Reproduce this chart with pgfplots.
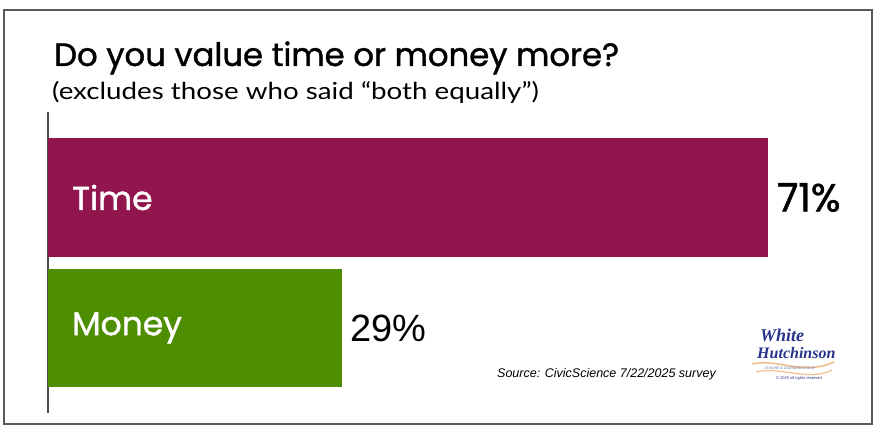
\documentclass[border=0pt]{standalone}
\usepackage{pgfplots}
\pgfplotsset{compat=1.18}
\usepackage{fontspec}
\setmainfont{Liberation Sans}
\newfontfamily\comic{Poppins}[FakeBold=1.2]
\newfontfamily\lato{Lato}
\newfontfamily\logofont{Liberation Serif}
\definecolor{timec}{RGB}{146,22,78}
\definecolor{moneyc}{RGB}{78,142,2}
\definecolor{logoblue}{RGB}{40,52,140}
\definecolor{logoorange}{RGB}{240,192,145}
\begin{document}
\begin{tikzpicture}[x=1pt,y=1pt]
\useasboundingbox (0,0) rectangle (880,434);
\fill[white] (0,0) rectangle (880,434);
\draw[line width=1.5pt, color=black!65] (4,10) rectangle (872,424);
% titles
\node[anchor=base west, inner sep=0pt] at (54,368) {\comic\fontsize{32.3}{36}\selectfont Do you value time or money more?};
\node[anchor=base west, inner sep=0pt] at (52,334) {\scalebox{1.18}[1]{\lato\fontsize{23.5}{26}\selectfont (excludes those who said \textquotedblleft both equally\textquotedblright)}};
\begin{axis}[
  at={(48pt,21pt)}, anchor=south west,
  scale only axis, width=811.2pt, height=301pt,
  xmin=0, xmax=80, ymin=-0.651, ymax=1.655,
  axis x line=none, axis y line*=left,
  y axis line style={line width=1.3pt, black!70, -},
  xtick=\empty, ytick=\empty,
  xbar, bar width=118.5pt, bar shift=0pt,
  point meta=x,
  /pgf/number format/assume math mode=true,
  clip=false,
]
\addplot[fill=timec, draw=none,
  nodes near coords={\comic\fontsize{39}{42}\selectfont\pgfmathprintnumber{\pgfplotspointmeta}\%},
  nodes near coords style={anchor=west, inner sep=0pt, xshift=9pt, text=black}]
  coordinates {(71,1)};
\addplot[fill=moneyc, draw=none,
  nodes near coords={\fontsize{38}{42}\selectfont\pgfmathprintnumber{\pgfplotspointmeta}\%},
  nodes near coords style={anchor=west, inner sep=0pt, xshift=8pt, text=black}]
  coordinates {(29,0)};
\node[anchor=west, inner sep=0pt, text=white, xshift=24pt] at (axis cs:0,1) {\comic\fontsize{33}{38}\selectfont Time};
\node[anchor=west, inner sep=0pt, text=white, xshift=24pt] at (axis cs:0,0) {\comic\fontsize{33}{38}\selectfont Money};
\end{axis}
% source
\node[anchor=base west, inner sep=0pt] at (497,57) {\fontsize{12.5}{14}\selectfont\itshape Source: CivicScience 7/22/2025 survey};
% logo
\node[anchor=base west, inner sep=0pt, text=logoblue] at (760,93) {\logofont\fontsize{18}{18}\selectfont\bfseries\itshape White};
\node[anchor=base west, inner sep=0pt, text=logoblue] at (757,76) {\logofont\fontsize{16}{16}\selectfont\bfseries\itshape Hutchinson};
\draw[logoorange, line width=1.6pt] (752,70) .. controls (775,76) and (805,58) .. (834,72);
\draw[logoorange, line width=1.2pt] (756,62) .. controls (780,68) and (808,52) .. (832,64);
\node[anchor=base, inner sep=0pt, text=logoblue!70] at (790,65) {\fontsize{3.5}{4}\selectfont LEISURE \& LEARNING GROUP};
\node[anchor=base west, inner sep=0pt, text=logoblue] at (776,55) {\fontsize{4}{5}\selectfont \textcopyright\ 2025 all rights reserved};
\end{tikzpicture}
\end{document}
